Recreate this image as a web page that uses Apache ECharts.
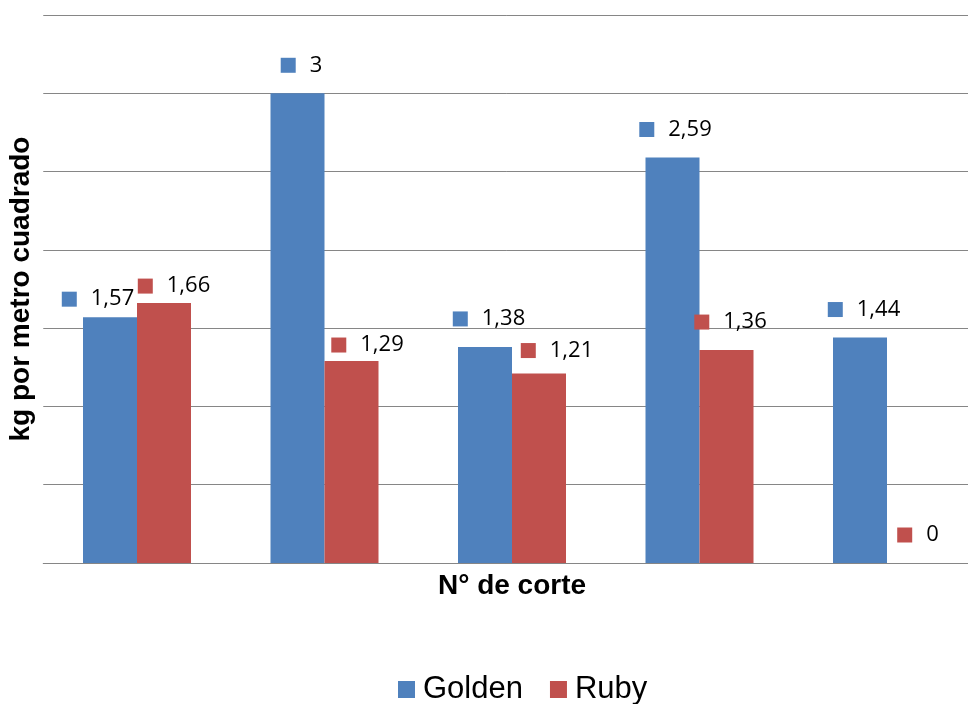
<!DOCTYPE html>
<html>
<head>
<meta charset="utf-8">
<script src="https://cdn.jsdelivr.net/npm/echarts@6/dist/echarts.min.js"></script>
<style>html,body{margin:0;padding:0;background:#fff}#c{width:968px;height:704px}</style>
</head>
<body>
<div id="c"></div>
<script>
const categories = ['1', '2', '3', '4', '5'];
const golden = [1.57, 3, 1.38, 2.59, 1.44];
const ruby = [1.66, 1.29, 1.21, 1.36, 0];
const yTicks = [0, 0.5, 1, 1.5, 2, 2.5, 3, 3.5];

// label nudges (style): [dx, gap from bar top to label centre]
const goldenLabelNudge = [[-12, 18], [4, 28], [4, 28], [3, 28], [4, 28]];
const rubyLabelNudge = [[10, 17], [16, 16], [18, 23], [4, 28], [4, 28]];

const BLUE = '#4F81BD', RED = '#C0504D';
const fmt = v => String(v).replace('.', ',');

function makeData(vals, nudges) {
  return vals.map((v, i) => ({
    value: v,
    label: { offset: [nudges[i][0], 0], distance: nudges[i][1] - 12 }
  }));
}
function labelCfg(color) {
  return {
    show: true,
    position: 'top',
    formatter: p => '{s|}{v|' + fmt(p.value) + '}',
    rich: {
      s: { width: 15, height: 15, backgroundColor: color },
      v: { fontFamily: 'Open Sans', fontSize: 22, color: '#000', padding: [0, 0, 0, 14], lineHeight: 24 }
    }
  };
}

const chart = echarts.init(document.getElementById('c'));
chart.setOption({
  animation: false,
  backgroundColor: '#fff',
  grid: { left: 43.25, width: 937.5, top: 15, height: 548, containLabel: false, outerBoundsMode: 'none' },
  legend: {
    bottom: -1, left: 398, padding: 0,
    itemWidth: 17, itemHeight: 17, itemGap: 27,
    icon: 'rect',
    textStyle: { fontFamily: 'Liberation Sans', fontSize: 31, color: '#000', padding: [0, 0, 0, 3] },
    data: ['Golden', 'Ruby']
  },
  xAxis: {
    type: 'category',
    data: categories,
    name: 'N° de corte',
    nameLocation: 'middle',
    nameGap: 9,
    nameTextStyle: { fontFamily: 'Liberation Sans', fontWeight: 'bold', fontSize: 28, color: '#000' },
    axisLine: { lineStyle: { color: '#868686', width: 1 } },
    axisTick: { show: false },
    axisLabel: { show: false }
  },
  yAxis: {
    type: 'value',
    min: yTicks[0], max: yTicks[yTicks.length - 1], interval: 0.5,
    name: 'kg por metro cuadrado',
    nameLocation: 'middle',
    nameGap: 8,
    nameTextStyle: { fontFamily: 'Liberation Sans', fontWeight: 'bold', fontSize: 28, color: '#000' },
    axisLine: { show: false },
    axisTick: { show: false },
    axisLabel: { show: false },
    splitLine: { lineStyle: { color: '#868686', width: 1 } }
  },
  series: [
    { name: 'Golden', type: 'bar', barWidth: 54, barGap: '0%', itemStyle: { color: BLUE }, data: makeData(golden, goldenLabelNudge), label: labelCfg(BLUE) },
    { name: 'Ruby', type: 'bar', barWidth: 54, barGap: '0%', itemStyle: { color: RED }, data: makeData(ruby, rubyLabelNudge), label: labelCfg(RED) }
  ]
});
</script>
</body>
</html>
